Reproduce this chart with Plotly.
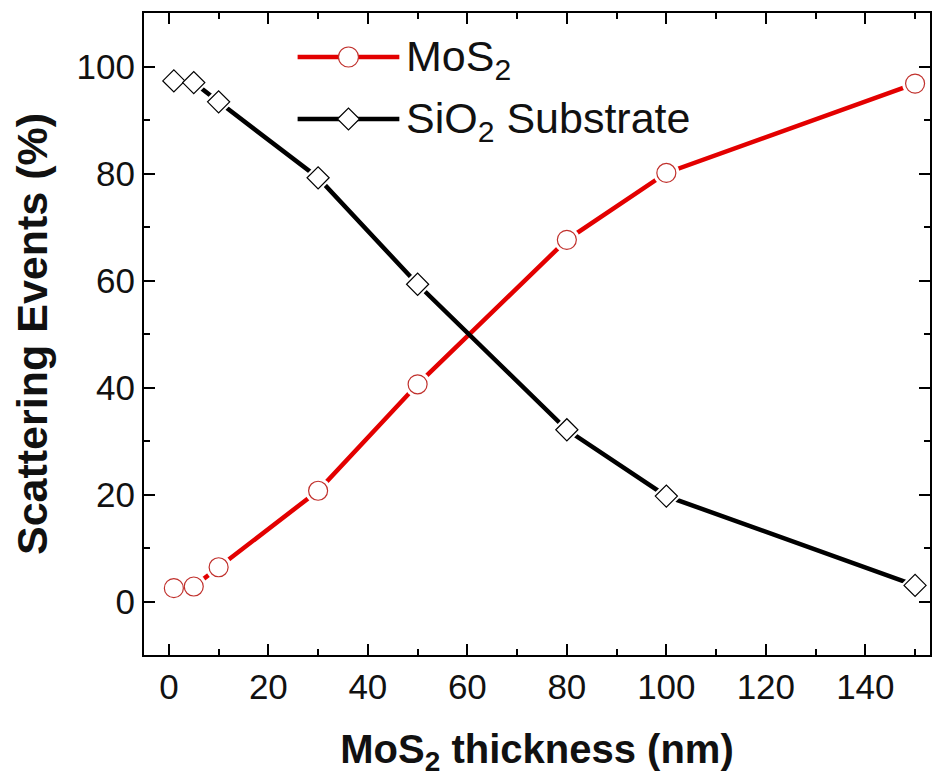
import plotly.graph_objects as go

thickness = [1, 5, 10, 30, 50, 80, 100, 150]
mos2 = [2.5, 2.8, 6.4, 20.7, 40.6, 67.6, 80.1, 96.8]
sio2 = [97.3, 97.0, 93.4, 79.2, 59.3, 32.1, 19.7, 3.0]

RED = "#e30000"
RED_EDGE = "#c0302c"
BLACK = "#000000"
FONT = "Arial, Liberation Sans, sans-serif"

fig = go.Figure()

# MoS2
fig.add_trace(go.Scatter(x=thickness, y=mos2, mode="lines",
                         line=dict(color=RED, width=4.5), showlegend=False, hoverinfo="skip"))
fig.add_trace(go.Scatter(x=thickness, y=mos2, mode="markers",
                         marker=dict(symbol="circle", size=26, color="white", line=dict(width=0)),
                         showlegend=False, hoverinfo="skip"))
fig.add_trace(go.Scatter(x=thickness, y=mos2, mode="markers",
                         marker=dict(symbol="circle", size=19, color="white",
                                     line=dict(color=RED_EDGE, width=1.2)),
                         showlegend=False))
# SiO2
fig.add_trace(go.Scatter(x=thickness, y=sio2, mode="lines",
                         line=dict(color=BLACK, width=4.5), showlegend=False, hoverinfo="skip"))
fig.add_trace(go.Scatter(x=thickness, y=sio2, mode="markers",
                         marker=dict(symbol="diamond", size=23, color="white", line=dict(width=0)),
                         showlegend=False, hoverinfo="skip"))
fig.add_trace(go.Scatter(x=thickness, y=sio2, mode="markers",
                         marker=dict(symbol="diamond", size=17, color="white",
                                     line=dict(color=BLACK, width=1.2)),
                         showlegend=False))

# custom legend (paper coords); plot area 144..932 x 13..655 px
def px(xp):
    return (xp - 144) / 788.0

def py(yp):
    return (655 - yp) / 642.0

shapes = []
for yy, col in [(57, RED), (119, BLACK)]:
    shapes.append(dict(type="line", xref="paper", yref="paper",
                       x0=px(298), x1=px(400), y0=py(yy), y1=py(yy),
                       line=dict(color=col, width=4.5)))
shapes.append(dict(type="circle", xref="paper", yref="paper",
                   xsizemode="pixel", ysizemode="pixel",
                   xanchor=px(349), yanchor=py(57),
                   x0=-10, x1=10, y0=-10, y1=10,
                   fillcolor="white", line=dict(color=RED_EDGE, width=1.2)))
shapes.append(dict(type="path", xref="paper", yref="paper",
                   xsizemode="pixel", ysizemode="pixel",
                   xanchor=px(349), yanchor=py(119),
                   path="M -11 0 L 0 11 L 11 0 L 0 -11 Z",
                   fillcolor="white", line=dict(color=BLACK, width=1.2)))

annotations = [
    dict(text="MoS<sub>2</sub>", x=px(405), y=py(59), xref="paper", yref="paper",
         xanchor="left", yanchor="middle", showarrow=False,
         font=dict(family=FONT, size=43, color="#111")),
    dict(text="SiO<sub>2</sub> Substrate", x=px(405), y=py(121), xref="paper", yref="paper",
         xanchor="left", yanchor="middle", showarrow=False,
         font=dict(family=FONT, size=43, color="#111")),
]

axis_common = dict(
    showline=True, linewidth=2, linecolor="black", mirror="allticks",
    ticks="inside", ticklen=11, tickwidth=2, tickcolor="black",
    showgrid=False, zeroline=False,
    tickfont=dict(family=FONT, size=35, color="#111"),
)

fig.update_xaxes(range=[-5, 153], dtick=20, tick0=0,
                 minor=dict(dtick=10, ticks="inside", ticklen=6, tickwidth=2, tickcolor="black"),
                 title=dict(text="<b>MoS<sub>2</sub> thickness (nm)</b>",
                            font=dict(family=FONT, size=40, color="#111"), standoff=30),
                 **axis_common)
fig.update_yaxes(range=[-10, 110], dtick=20, tick0=0,
                 minor=dict(dtick=10, ticks="inside", ticklen=6, tickwidth=2, tickcolor="black"),
                 title=dict(text="<b>Scattering Events (%)</b>",
                            font=dict(family=FONT, size=43, color="#111"), standoff=16),
                 **axis_common)

fig.update_layout(
    width=934, height=778,
    margin=dict(l=144, r=2, t=13, b=123),
    plot_bgcolor="white", paper_bgcolor="white",
    shapes=shapes, annotations=annotations,
    showlegend=False,
)

fig.write_html("out.html")
